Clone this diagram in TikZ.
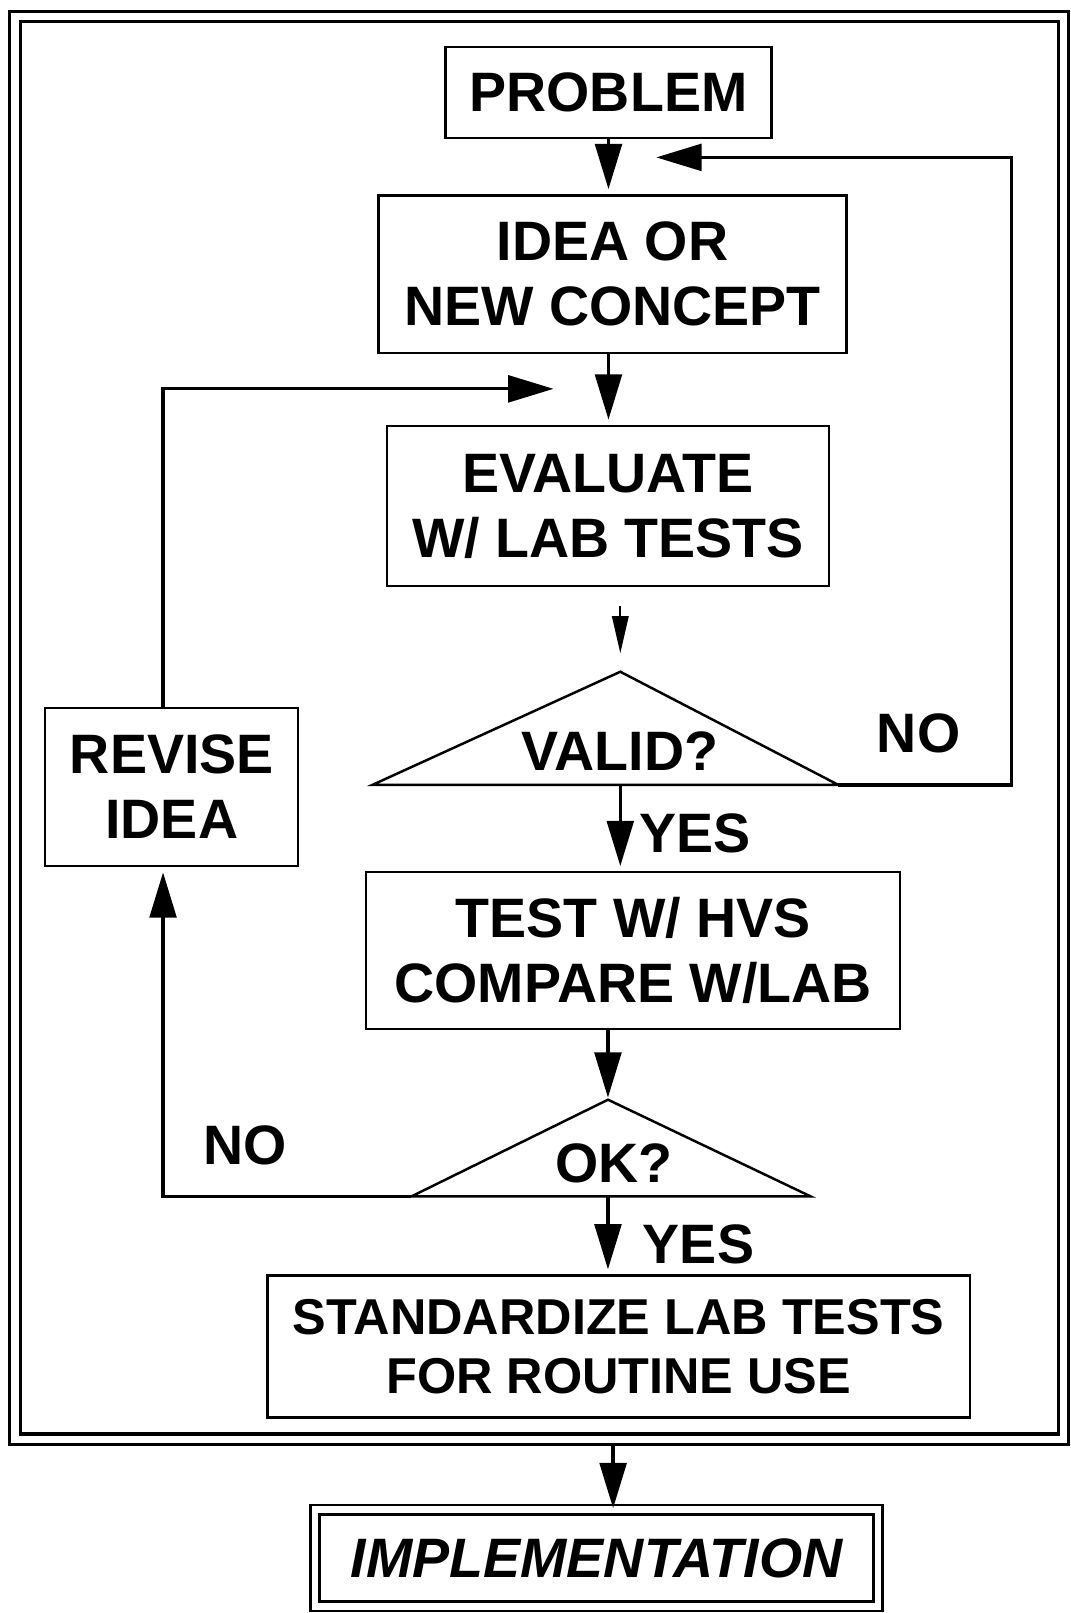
\documentclass[tikz,border=0pt]{standalone}
\usepackage{fontspec}
\setmainfont{Liberation Sans}
\usepackage{tikz}
\usetikzlibrary{arrows.meta,calc}
\tikzset{box/.style={draw, line width=1.1pt, inner sep=0pt, align=center}}
\tikzset{tri/.style={draw, line width=1.2pt}}
\tikzset{dbl/.style={draw, double, line width=1.4pt, double distance=3.1pt, inner sep=0pt}}

\begin{document}
\begin{tikzpicture}[x=0.5pt, y=-0.5pt, >={Triangle[length=22pt,width=13pt]}, shorten >=2.5pt, line width=1.6pt, font=\bfseries\fontsize{27}{31.5}\selectfont]
\useasboundingbox (0,0) rectangle (1041,1568);
% outer frame
\draw[double, line width=1.5pt, double distance=3.5pt] (14.5,16) rectangle (1034,1399);
\coordinate (fb) at (596,1405);

% boxes
\node[box, minimum width=158.5pt, minimum height=44pt] (prob) at (591.5,90) {PROBLEM};
\node[box, minimum width=227.5pt, minimum height=76.5pt] (idea) at (595.5,266.5) {IDEA OR\\NEW CONCEPT};
\node[box, minimum width=215pt, minimum height=78pt] (eval) at (591,492) {EVALUATE\\W/ LAB TESTS};
\node[box, minimum width=259.5pt, minimum height=76pt] (test) at (615.5,924) {TEST W/ HVS\\COMPARE W/LAB};
\node[box, minimum width=341.5pt, minimum height=69pt, font=\bfseries\fontsize{24.5}{28.5}\selectfont] (stand) at (601.5,1309) {STANDARDIZE LAB TESTS\\FOR ROUTINE USE};
\node[box, minimum width=123pt, minimum height=77pt] (revise) at (167,765) {REVISE\\IDEA};
\node[dbl, minimum width=273.5pt, minimum height=47pt, font=\bfseries\itshape\fontsize{27}{31.5}\selectfont] (impl) at (580,1514.5) {IMPLEMENTATION};

% decisions
\coordinate (v1) at (603,653);
\coordinate (v2) at (362,763);
\coordinate (v3) at (815,763);
\draw[tri] (v1) -- (v2) -- (v3) -- cycle;
\node (valid) at (602.5,730) {VALID?};
\coordinate (o1) at (591,1069);
\coordinate (o2) at (400,1163);
\coordinate (o3) at (788,1163);
\draw[tri] (o1) -- (o2) -- (o3) -- cycle;
\node (ok) at (597,1131) {OK?};

% loop ends
\coordinate (n1) at (638,153);
\coordinate (nr) at (983,153);
\coordinate (r1) at (538,378);
\coordinate (rc) at (158.5,765);

% arrows
\draw[->] (prob.south) -- (prob.south |- idea.north);
\draw[->] (idea.south -| prob.south) -- (eval.north -| prob.south);
\draw[-{Triangle[length=18pt,width=8pt]}, line width=0.9pt, shorten <=9pt, shorten >=9pt] (eval.south -| v1) -- (v1);
\draw[->, shorten >=0pt] (v3) -| (nr) -- (n1);
\draw[->] (v1 |- v2) -- (v1 |- test.north);
\draw[->, shorten >=1pt] (test.south -| o1) -- (o1);
\draw[->] (o1 |- o2) -- (o1 |- stand.north);
\draw[->] (o2) -| (rc |- revise.south);
\draw[->, shorten >=0pt] (rc |- revise.north) |- (r1);
\draw[->, shorten >=0pt] (fb) -- (fb |- impl.north);

% labels
\node (no1) at (893,713) {NO};
\node (yes1) at (676,810) {YES};
\node (no2) at (238,1113) {NO};
\node (yes2) at (679,1210) {YES};
\end{tikzpicture}
\end{document}
